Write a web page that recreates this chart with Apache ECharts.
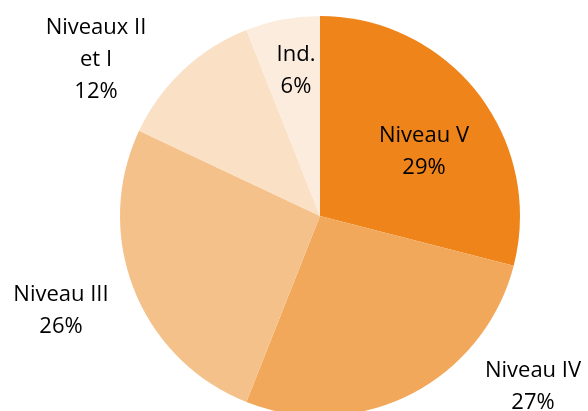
<!DOCTYPE html>
<html>
<head>
<meta charset="utf-8">
<script src="https://cdn.jsdelivr.net/npm/echarts@6/dist/echarts.min.js"></script>
<style>
  html, body { margin: 0; padding: 0; background: #fff; }
  #chart { width: 588px; height: 411px; }
</style>
</head>
<body>
<div id="chart"></div>
<script>
// parts, clockwise from 12 o'clock
const names = ['Niveau V', 'Niveau IV', 'Niveau III', 'Niveaux II\net I', 'Ind.'];
const values = [29, 27, 26, 12, 6];
const colors = ['#EE841A', '#F2A85B', '#F5C18B', '#FAE0C4', '#FCECDD'];

// where Excel put each label (center of the text block)
const labelAt = {
  'Niveau V': [424, 152],
  'Niveau IV': [533, 387],
  'Niveau III': [61, 311],
  'Niveaux II\net I': [96, 60],
  'Ind.': [296, 71]
};

let chart = echarts.init(document.getElementById('chart'));
let option = {
  animation: false,
  series: [{
    type: 'pie',
    center: [320, 216],
    radius: 200,
    startAngle: 90,
    clockwise: true,
    label: {
      show: true,
      position: 'outside',
      formatter: p => p.name + '\n' + p.value + '%',
      color: '#000',
      fontFamily: '"Open Sans", sans-serif',
      fontSize: 22,
      lineHeight: 32,
      align: 'center',
      overflow: 'none',
      width: 200
    },
    labelLine: { show: false },
    labelLayout: function (params) {
      let pos = labelAt[names[params.dataIndex]];
      return {
        x: pos[0],
        y: pos[1],
        align: 'center',
        verticalAlign: 'middle'
      };
    },
    emphasis: { disabled: true },
    data: names.map((n, i) => ({
      name: n,
      value: values[i],
      itemStyle: { color: colors[i], borderWidth: 0 }
    }))
  }]
};
chart.setOption(option);
</script>
</body>
</html>
